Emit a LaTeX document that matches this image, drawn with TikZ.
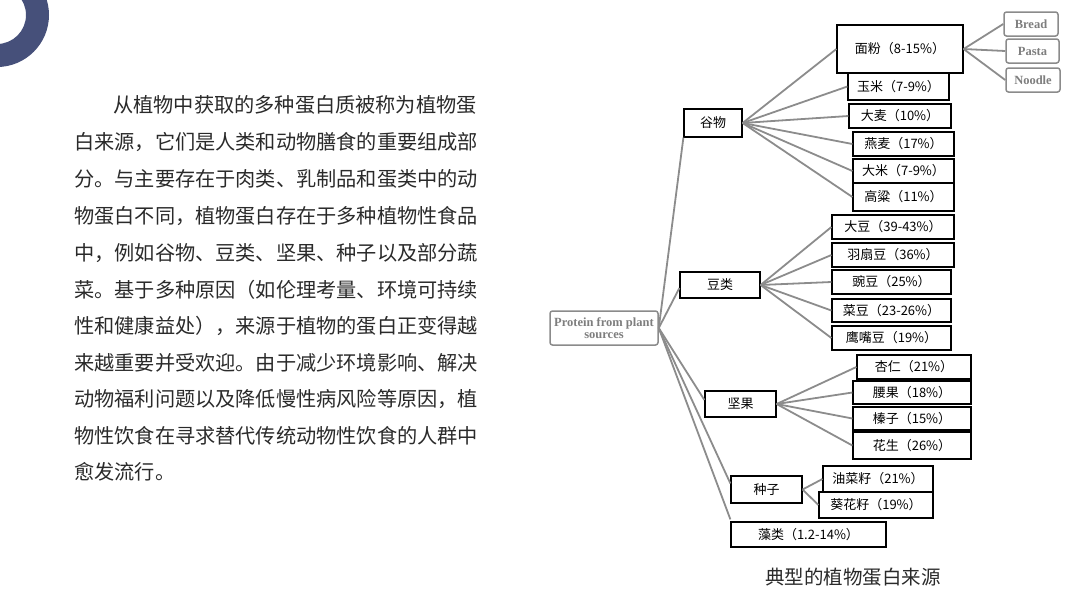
\documentclass[tikz,border=0pt]{standalone}
\usepackage{fontspec}
\setmainfont{Noto Sans CJK SC}
\newfontfamily\enserif{Liberation Serif}
\usetikzlibrary{calc}
\definecolor{ringblue}{HTML}{46507A}
\definecolor{bodytext}{HTML}{2A2A2A}
\definecolor{lnk}{HTML}{8C8C8C}
\definecolor{engray}{HTML}{7E7E7E}
\tikzset{
  cbox/.style={draw=black, line width=1.2pt, fill=white, inner sep=0pt, font=\fontsize{13}{15}\selectfont, text=black},
  ebox/.style={draw=engray!90, line width=1.5pt, rounded corners=2.5pt, fill=white, inner sep=0pt, font=\enserif\bfseries\fontsize{12.5}{13}\selectfont, text=engray},
  lnkline/.style={draw=lnk, line width=1.8pt},
  bodyline/.style={anchor=west, inner sep=0pt, font=\fontsize{20.2}{22}\selectfont, text=bodytext},
}
\begin{document}
\begin{tikzpicture}[x=1pt,y=-1pt]
\useasboundingbox (0,0) rectangle (1080,606);
% decorative ring
\fill[ringblue, even odd rule] (-3,15) circle[radius=52] (-3,15) circle[radius=29];

% body text
\node[bodyline] (t1) at (113,105) {从植物中获取的多种蛋白质被称为植物蛋};
\node[bodyline] (t2) at (74,142.5) {白来源，它们是人类和动物膳食的重要组成部};
\node[bodyline] (t3) at (74,179) {分。与主要存在于肉类、乳制品和蛋类中的动};
\node[bodyline] (t4) at (74,216) {物蛋白不同，植物蛋白存在于多种植物性食品};
\node[bodyline] (t5) at (74,253) {中，例如谷物、豆类、坚果、种子以及部分蔬};
\node[bodyline] (t6) at (74,289.5) {菜。基于多种原因（如伦理考量、环境可持续};
\node[bodyline] (t7) at (74,326) {性和健康益处），来源于植物的蛋白正变得越};
\node[bodyline] (t8) at (74,362.5) {来越重要并受欢迎。由于减少环境影响、解决};
\node[bodyline] (t9) at (74,399) {动物福利问题以及降低慢性病风险等原因，植};
\node[bodyline] (t10) at (74,435.5) {物性饮食在寻求替代传统动物性饮食的人群中};
\node[bodyline] (t11) at (74,472) {愈发流行。};

% root
\node[ebox, minimum width=108, minimum height=34, align=center, font=\enserif\bfseries\fontsize{12.5}{11.5}\selectfont] (root) at (604,328) {Protein from plant\\sources};

% level 1
\node[cbox, minimum width=58, minimum height=28] (guwu) at (713,123) {谷物};
\node[cbox, minimum width=80, minimum height=26] (doulei) at (720,285) {豆类};
\node[cbox, minimum width=71, minimum height=26] (jianguo) at (740.5,404) {坚果};
\node[cbox, minimum width=71, minimum height=27] (zhongzi) at (766.5,489.5) {种子};
\node[cbox, minimum width=155, minimum height=25] (zaolei) at (808.5,534.5) {藻类（1.2-14\%）};

% cereals
\node[cbox, minimum width=126, minimum height=48] (mianfen) at (900,49) {面粉（8-15\%）};
\node[cbox, minimum width=101, minimum height=27] (yumi) at (898.5,86.5) {玉米（7-9\%）};
\node[cbox, minimum width=102, minimum height=24] (damai) at (900,116) {大麦（10\%）};
\node[cbox, minimum width=101, minimum height=24] (yanmai) at (903.5,144) {燕麦（17\%）};
\node[cbox, minimum width=101, minimum height=24] (dami) at (903.5,171) {大米（7-9\%）};
\node[cbox, minimum width=101, minimum height=28] (gaoliang) at (903.5,197) {高粱（11\%）};

% flour products
\node[ebox, minimum width=54, minimum height=24] (bread) at (1031,24) {Bread};
\node[ebox, minimum width=53, minimum height=24] (pasta) at (1032.5,51) {Pasta};
\node[ebox, minimum width=54, minimum height=24] (noodle) at (1033,80) {Noodle};

% legumes
\node[cbox, minimum width=122, minimum height=24] (dadou) at (893,227) {大豆（39-43\%）};
\node[cbox, minimum width=122, minimum height=24] (yushan) at (893,255) {羽扇豆（36\%）};
\node[cbox, minimum width=119, minimum height=24] (wandou) at (891.5,282) {豌豆（25\%）};
\node[cbox, minimum width=119, minimum height=23] (caidou) at (891.5,310.5) {菜豆（23-26\%）};
\node[cbox, minimum width=119, minimum height=24] (yingzui) at (891.5,338) {鹰嘴豆（19\%）};

% nuts
\node[cbox, minimum width=114, minimum height=24] (xingren) at (914,367) {杏仁（21\%）};
\node[cbox, minimum width=118, minimum height=23] (yaoguo) at (912,392.5) {腰果（18\%）};
\node[cbox, minimum width=118, minimum height=23] (zhenzi) at (912,418.5) {榛子（15\%）};
\node[cbox, minimum width=118, minimum height=27] (huasheng) at (912,445.5) {花生（26\%）};

% seeds
\node[cbox, minimum width=110, minimum height=26] (youcai) at (878,479) {油菜籽（21\%）};
\node[cbox, minimum width=114, minimum height=26] (kuihua) at (876,505) {葵花籽（19\%）};

% caption
\node[font=\fontsize{19.5}{21}\selectfont, text=bodytext] (caption) at (853,577) {典型的植物蛋白来源};

% connectors
\draw[lnkline] (root.east) -- (guwu.south west);
\draw[lnkline] (root.east) -- ($(doulei.west)+(0,3)$);
\draw[lnkline] (root.east) -- ($(jianguo.west)+(0,-4)$);
\draw[lnkline] (root.east) -- ($(zhongzi.west)+(0,-6)$);
\draw[lnkline] (root.east) -- ($(zaolei.north west)+(0,-2)$);

\foreach \c in {mianfen,yumi,damai,yanmai,dami,gaoliang}
  \draw[lnkline] (guwu.east) -- (\c.west);
\foreach \c in {bread,pasta,noodle}
  \draw[lnkline] (mianfen.east) -- (\c.west);
\foreach \c in {dadou,yushan,wandou,caidou,yingzui}
  \draw[lnkline] (doulei.east) -- (\c.west);
\foreach \c in {xingren,yaoguo,zhenzi,huasheng}
  \draw[lnkline] (jianguo.east) -- (\c.west);
\foreach \c in {youcai,kuihua}
  \draw[lnkline] (zhongzi.east) -- (\c.west);
\end{tikzpicture}
\end{document}
